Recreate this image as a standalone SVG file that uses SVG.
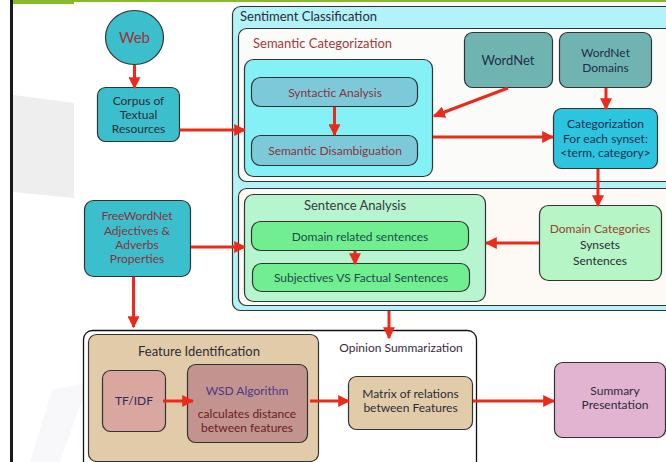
<svg xmlns="http://www.w3.org/2000/svg" width="666" height="462" viewBox="0 0 666 462">
<defs>
<marker id="ah" viewBox="0 0 10 10" refX="9" refY="5" markerWidth="4" markerHeight="4" orient="auto" markerUnits="strokeWidth">
<path d="M0,0 L10,5 L0,10 z" fill="#ea2b1c"/>
</marker>
<style>
text{font-family:Lato,"Open Sans","Liberation Sans",sans-serif;text-anchor:middle;font-size:12px;fill:#2b2b3a}
.b{stroke:#333;stroke-width:1.2}
.c{stroke:#ea2b1c;stroke-width:3;fill:none;marker-end:url(#ah)}
.red{fill:#8c3040}
.nv{fill:#1f2d4e}
.t{font-size:13px}
</style>
</defs>
<rect width="666" height="462" fill="#ffffff"/>
<polygon points="13,95 74,103 74,198 13,192" fill="#eeeeee"/>
<polygon points="30,462 52,390 140,372 150,390 80,405 60,462" fill="#f8f8fa"/>
<rect x="10" y="0" width="3" height="462" fill="#1a1a1a"/>
<rect x="13" y="0" width="61" height="4" fill="#8ab92e"/>
<rect x="74" y="0" width="592" height="2" fill="#8ab92e"/>

<g id="sentiment-classification">
<rect class="b" x="232.5" y="6.5" width="450" height="304" rx="8" fill="#b2f3f7"/>
<text x="240" y="21" class="t" style="text-anchor:start">Sentiment Classification</text>
</g>
<g id="semantic-categorization">
<rect class="b" x="238.5" y="28.5" width="440" height="153" rx="8" fill="#fbfbfa"/>
<text x="253" y="48" class="t" style="text-anchor:start;fill:#a33a3a">Semantic Categorization</text>
</g>
<g id="semantic-inner">
<rect class="b" x="244.5" y="59.5" width="188" height="117" rx="9" fill="#84f1f7"/>
</g>
<g id="syntactic-analysis">
<rect class="b" x="251.5" y="77.5" width="166" height="29" rx="9" fill="#7ccad9"/>
<text x="335" y="96.5" class="red">Syntactic Analysis</text>
</g>
<g id="semantic-disambiguation">
<rect class="b" x="251.5" y="135.5" width="166" height="30" rx="9" fill="#7ccad9"/>
<text x="335" y="155" class="red">Semantic Disambiguation</text>
</g>
<g id="wordnet">
<rect class="b" x="464.5" y="32.5" width="88" height="55" rx="8" fill="#70b4b1"/>
<text x="508" y="64.5" class="t nv">WordNet</text>
</g>
<g id="wordnet-domains">
<rect class="b" x="559.5" y="32.5" width="92" height="55" rx="8" fill="#70b4b1"/>
<text x="605.5" y="57" class="nv">WordNet</text>
<text x="605.5" y="71.5" class="nv">Domains</text>
</g>
<g id="categorization">
<rect class="b" x="553.5" y="108.5" width="104" height="60" rx="8" fill="#2cc5e0"/>
<text x="605.5" y="128" class="nv">Categorization</text>
<text x="605.5" y="142.5" class="nv">For each synset:</text>
<text x="605.5" y="157" class="nv">&lt;term, category&gt;</text>
</g>
<g id="sentence-outer">
<rect class="b" x="238.5" y="188.5" width="440" height="117" rx="8" fill="#fdf9f5"/>
</g>
<g id="sentence-analysis">
<rect class="b" x="244.5" y="194.5" width="241" height="107" rx="9" fill="#b6f5d0"/>
<text x="355" y="209.5" class="t" style="fill:#3a3a3a">Sentence Analysis</text>
</g>
<g id="domain-related">
<rect class="b" x="251.5" y="221.5" width="217" height="29" rx="9" fill="#70ee90"/>
<text x="360" y="240.5" style="fill:#1f4a50">Domain related sentences</text>
</g>
<g id="subjectives">
<rect class="b" x="252.5" y="263.5" width="217" height="28" rx="9" fill="#70ee90"/>
<text x="361" y="282" style="fill:#1f4a50">Subjectives VS Factual Sentences</text>
</g>
<g id="domain-categories">
<rect class="b" x="539.5" y="205.5" width="122" height="75" rx="9" fill="#b6f5c6"/>
<text x="600" y="233" style="fill:#a04030">Domain Categories</text>
<text x="600" y="249">Synsets</text>
<text x="600" y="265">Sentences</text>
</g>
<g id="web">
<ellipse class="b" cx="134.5" cy="37.5" rx="29" ry="27" fill="#3bbfcc"/>
<text x="134.5" y="43" style="font-size:15px;fill:#a3303f">Web</text>
</g>
<g id="corpus">
<rect class="b" x="97.5" y="87.5" width="82" height="54" rx="8" fill="#3bbfcc"/>
<text x="138.5" y="105">Corpus of</text>
<text x="138.5" y="119">Textual</text>
<text x="138.5" y="133">Resources</text>
</g>
<g id="freewordnet">
<rect class="b" x="84.5" y="200.5" width="106" height="76" rx="9" fill="#3bbfcc"/>
<text x="137" y="220" class="red">FreeWordNet</text>
<text x="137" y="234.5" class="red">Adjectives &amp;</text>
<text x="137" y="248.5" class="red">Adverbs</text>
<text x="137" y="263" class="red">Properties</text>
</g>
<g id="opinion-summarization">
<rect x="83.5" y="330.5" width="393" height="150" rx="9" fill="#ffffff" stroke="#111" stroke-width="1.3"/>
<text x="401" y="351.5" style="fill:#3a2a40">Opinion Summarization</text>
</g>
<g id="feature-identification">
<rect class="b" x="88.5" y="334.5" width="230" height="127" rx="8" fill="#e2cba8"/>
<text x="199" y="355.5" class="t">Feature Identification</text>
</g>
<g id="tfidf">
<rect class="b" x="102.5" y="370.5" width="63" height="61" rx="8" fill="#d9a6a0"/>
<text x="134" y="405" style="fill:#2c2c60">TF/IDF</text>
</g>
<g id="wsd">
<rect class="b" x="187.5" y="364.5" width="120" height="78" rx="8" fill="#c39390"/>
<text x="247" y="395" style="fill:#4a3a8a">WSD Algorithm</text>
<text x="247" y="418" style="fill:#6a2020">calculates distance</text>
<text x="247" y="432" style="fill:#6a2020">between features</text>
</g>
<g id="matrix">
<rect class="b" x="348.5" y="376.5" width="124" height="53" rx="8" fill="#e2cba8"/>
<text x="410.5" y="397.5">Matrix of relations</text>
<text x="410.5" y="411.5">between Features</text>
</g>
<g id="summary">
<rect class="b" x="554.5" y="362.5" width="111" height="75" rx="8" fill="#e3b4d1"/>
<text x="615" y="395">Summary</text>
<text x="615" y="409">Presentation</text>
</g>

<g id="connectors">
<line class="c" x1="134.5" y1="65" x2="134.5" y2="88"/>
<line class="c" x1="179.5" y1="130" x2="245" y2="130"/>
<line class="c" x1="334.5" y1="107" x2="334.5" y2="135"/>
<line class="c" x1="508" y1="88" x2="434" y2="116"/>
<line class="c" x1="433" y1="137" x2="553" y2="137"/>
<line class="c" x1="606" y1="88" x2="606" y2="109"/>
<line class="c" x1="598" y1="169" x2="598" y2="206"/>
<line class="c" x1="539" y1="243" x2="486" y2="243"/>
<line class="c" x1="355" y1="251" x2="355" y2="264"/>
<line class="c" x1="191" y1="247" x2="245" y2="247"/>
<line class="c" x1="133.5" y1="277" x2="133.5" y2="327"/>
<line class="c" x1="389" y1="311" x2="389" y2="338"/>
<line class="c" x1="163" y1="401" x2="193" y2="401"/>
<line class="c" x1="310" y1="401" x2="349" y2="401"/>
<line class="c" x1="473" y1="401" x2="554" y2="401"/>
</g>
</svg>
